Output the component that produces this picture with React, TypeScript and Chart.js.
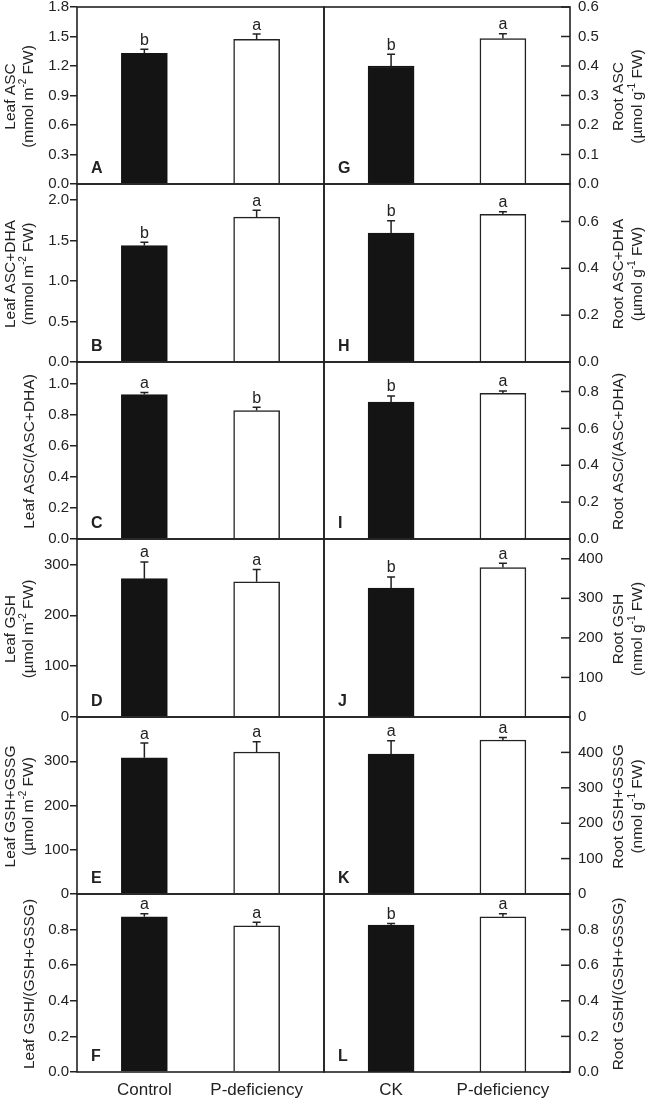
import React, { useEffect, useRef } from "react";
import { Chart, registerables } from "chart.js";

Chart.register(...registerables);

const FONT = '"Liberation Sans", Arial, Helvetica, sans-serif';
const INK = "#222222";
const BAR_DARK = "#141414";

// ---------- data ----------
const leafCategories = ["Control", "P-deficiency"];
const rootCategories = ["CK", "P-deficiency"];

// A  Leaf ASC
const leafAscMean = [1.33, 1.47];
const leafAscErr = [0.04, 0.055];
const leafAscSig = ["b", "a"];
const leafAscTicks = [0, 0.3, 0.6, 0.9, 1.2, 1.5, 1.8];
// B  Leaf ASC+DHA
const leafTotalAscMean = [1.44, 1.79];
const leafTotalAscErr = [0.04, 0.085];
const leafTotalAscSig = ["b", "a"];
const leafTotalAscTicks = [0, 0.5, 1.0, 1.5, 2.0];
// C  Leaf ASC/(ASC+DHA)
const leafAscRatioMean = [0.93, 0.827];
const leafAscRatioErr = [0.013, 0.022];
const leafAscRatioSig = ["a", "b"];
const leafAscRatioTicks = [0, 0.2, 0.4, 0.6, 0.8, 1.0];
// D  Leaf GSH
const leafGshMean = [272, 266];
const leafGshErr = [33, 24];
const leafGshSig = ["a", "a"];
const leafGshTicks = [0, 100, 200, 300];
// E  Leaf GSH+GSSG
const leafTotalGshMean = [308, 321];
const leafTotalGshErr = [33, 23];
const leafTotalGshSig = ["a", "a"];
const leafTotalGshTicks = [0, 100, 200, 300];
// F  Leaf GSH/(GSH+GSSG)
const leafGshRatioMean = [0.872, 0.821];
const leafGshRatioErr = [0.017, 0.02];
const leafGshRatioSig = ["a", "a"];
const leafGshRatioTicks = [0, 0.2, 0.4, 0.6, 0.8];
// G  Root ASC
const rootAscMean = [0.4, 0.493];
const rootAscErr = [0.04, 0.016];
const rootAscSig = ["b", "a"];
const rootAscTicks = [0, 0.1, 0.2, 0.3, 0.4, 0.5, 0.6];
// H  Root ASC+DHA
const rootTotalAscMean = [0.55, 0.631];
const rootTotalAscErr = [0.053, 0.011];
const rootTotalAscSig = ["b", "a"];
const rootTotalAscTicks = [0, 0.2, 0.4, 0.6];
// I  Root ASC/(ASC+DHA)
const rootAscRatioMean = [0.742, 0.79];
const rootAscRatioErr = [0.034, 0.013];
const rootAscRatioSig = ["b", "a"];
const rootAscRatioTicks = [0, 0.2, 0.4, 0.6, 0.8];
// J  Root GSH
const rootGshMean = [326, 378];
const rootGshErr = [28, 11];
const rootGshSig = ["b", "a"];
const rootGshTicks = [0, 100, 200, 300, 400];
// K  Root GSH+GSSG
const rootTotalGshMean = [395, 435];
const rootTotalGshErr = [38, 7];
const rootTotalGshSig = ["a", "a"];
const rootTotalGshTicks = [0, 100, 200, 300, 400];
// L  Root GSH/(GSH+GSSG)
const rootGshRatioMean = [0.825, 0.872];
const rootGshRatioErr = [0.009, 0.017];
const rootGshRatioSig = ["b", "a"];
const rootGshRatioTicks = [0, 0.2, 0.4, 0.6, 0.8];

type PanelSpec = {
  letter: string;
  side: "left" | "right";
  row: number;
  title: string[];
  cats: string[];
  values: number[];
  errs: number[];
  sig: string[];
  max: number;
  ticks: number[];
  decimals: number;
};

const PANELS: PanelSpec[] = [
  { letter: "A", side: "left", row: 0, title: ["Leaf ASC", "(mmol m{-2} FW)"], cats: leafCategories, values: leafAscMean, errs: leafAscErr, sig: leafAscSig, max: 1.8, ticks: leafAscTicks, decimals: 1 },
  { letter: "B", side: "left", row: 1, title: ["Leaf ASC+DHA", "(mmol m{-2} FW)"], cats: leafCategories, values: leafTotalAscMean, errs: leafTotalAscErr, sig: leafTotalAscSig, max: 2.2, ticks: leafTotalAscTicks, decimals: 1 },
  { letter: "C", side: "left", row: 2, title: ["Leaf ASC/(ASC+DHA)"], cats: leafCategories, values: leafAscRatioMean, errs: leafAscRatioErr, sig: leafAscRatioSig, max: 1.14, ticks: leafAscRatioTicks, decimals: 1 },
  { letter: "D", side: "left", row: 3, title: ["Leaf GSH", "(µmol m{-2} FW)"], cats: leafCategories, values: leafGshMean, errs: leafGshErr, sig: leafGshSig, max: 350, ticks: leafGshTicks, decimals: 0 },
  { letter: "E", side: "left", row: 4, title: ["Leaf GSH+GSSG", "(µmol m{-2} FW)"], cats: leafCategories, values: leafTotalGshMean, errs: leafTotalGshErr, sig: leafTotalGshSig, max: 400, ticks: leafTotalGshTicks, decimals: 0 },
  { letter: "F", side: "left", row: 5, title: ["Leaf GSH/(GSH+GSSG)"], cats: leafCategories, values: leafGshRatioMean, errs: leafGshRatioErr, sig: leafGshRatioSig, max: 1.0, ticks: leafGshRatioTicks, decimals: 1 },
  { letter: "G", side: "right", row: 0, title: ["Root ASC", "(µmol g{-1} FW)"], cats: rootCategories, values: rootAscMean, errs: rootAscErr, sig: rootAscSig, max: 0.6, ticks: rootAscTicks, decimals: 1 },
  { letter: "H", side: "right", row: 1, title: ["Root ASC+DHA", "(µmol g{-1} FW)"], cats: rootCategories, values: rootTotalAscMean, errs: rootTotalAscErr, sig: rootTotalAscSig, max: 0.76, ticks: rootTotalAscTicks, decimals: 1 },
  { letter: "I", side: "right", row: 2, title: ["Root ASC/(ASC+DHA)"], cats: rootCategories, values: rootAscRatioMean, errs: rootAscRatioErr, sig: rootAscRatioSig, max: 0.96, ticks: rootAscRatioTicks, decimals: 1 },
  { letter: "J", side: "right", row: 3, title: ["Root GSH", "(nmol g{-1} FW)"], cats: rootCategories, values: rootGshMean, errs: rootGshErr, sig: rootGshSig, max: 450, ticks: rootGshTicks, decimals: 0 },
  { letter: "K", side: "right", row: 4, title: ["Root GSH+GSSG", "(nmol g{-1} FW)"], cats: rootCategories, values: rootTotalGshMean, errs: rootTotalGshErr, sig: rootTotalGshSig, max: 500, ticks: rootTotalGshTicks, decimals: 0 },
  { letter: "L", side: "right", row: 5, title: ["Root GSH/(GSH+GSSG)"], cats: rootCategories, values: rootGshRatioMean, errs: rootGshRatioErr, sig: rootGshRatioSig, max: 1.0, ticks: rootGshRatioTicks, decimals: 1 },
];

// ---------- layout ----------
const ROW_Y = [7, 184, 362, 539, 717, 894, 1072];
const PAD_T = 20;
const PAD_B = 20;
const X_AXIS_H = 30;
const LEFT_CANVAS = { left: 0, width: 331, axisW: 77 };
const RIGHT_CANVAS = { left: 317, width: 333, axisW: 80 };

function drawRich(ctx: CanvasRenderingContext2D, text: string, cx: number, cy: number, size: number) {
  const parts = text
    .split(/(\{[^}]*\})/)
    .filter((s) => s.length > 0)
    .map((s) => (s.startsWith("{") ? { t: s.slice(1, -1), sup: true } : { t: s, sup: false }));
  const normFont = `${size}px ${FONT}`;
  const supFont = `${Math.round(size * 0.66)}px ${FONT}`;
  const widths = parts.map((p) => {
    ctx.font = p.sup ? supFont : normFont;
    return ctx.measureText(p.t).width;
  });
  const total = widths.reduce((a, b) => a + b, 0);
  ctx.save();
  ctx.translate(cx, cy);
  ctx.rotate(-Math.PI / 2);
  ctx.textBaseline = "middle";
  ctx.textAlign = "left";
  ctx.fillStyle = INK;
  let x = -total / 2;
  parts.forEach((p, i) => {
    ctx.font = p.sup ? supFont : normFont;
    ctx.fillText(p.t, x, p.sup ? -size * 0.36 : 0);
    x += widths[i];
  });
  ctx.restore();
}

function makeDecor(p: PanelSpec) {
  return {
    id: "decor",
    afterDatasetsDraw(chart: any) {
      const { ctx, chartArea: a, scales } = chart;
      const x = scales.x;
      const y = scales.y;
      ctx.save();
      // error bars + significance letters
      p.values.forEach((v, i) => {
        const px = x.getPixelForValue(i);
        const y0 = y.getPixelForValue(v);
        const y1 = y.getPixelForValue(v + p.errs[i]);
        ctx.strokeStyle = INK;
        ctx.lineWidth = 1.5;
        ctx.beginPath();
        ctx.moveTo(px, y0);
        ctx.lineTo(px, y1);
        ctx.moveTo(px - 4, y1);
        ctx.lineTo(px + 4, y1);
        ctx.stroke();
        ctx.fillStyle = INK;
        ctx.font = `16px ${FONT}`;
        ctx.textAlign = "center";
        ctx.textBaseline = "alphabetic";
        ctx.fillText(p.sig[i], px, y1 - 4.5);
      });
      // frame
      ctx.strokeStyle = INK;
      ctx.lineWidth = 1.6;
      ctx.strokeRect(a.left, a.top, a.right - a.left, a.bottom - a.top);
      // inward ticks on right axis
      if (p.side === "right") {
        ctx.lineWidth = 1.5;
        y.ticks.forEach((t: any) => {
          const py = y.getPixelForValue(t.value);
          ctx.beginPath();
          ctx.moveTo(a.right - 9, py);
          ctx.lineTo(a.right, py);
          ctx.stroke();
        });
      }
      // panel letter
      ctx.fillStyle = INK;
      ctx.font = `bold 16px ${FONT}`;
      ctx.textAlign = "left";
      ctx.textBaseline = "alphabetic";
      ctx.fillText(p.letter, a.left + 14, a.bottom - 11);
      // axis titles
      const cy = (a.top + a.bottom) / 2 + 1;
      let xs: number[];
      if (p.side === "left") {
        xs = p.title.length === 2 ? [11, 28.5] : [29.5];
      } else {
        xs = p.title.length === 2 ? [302, 321] : [302];
      }
      p.title.forEach((t, i) => drawRich(ctx, t, xs[i], cy, 15.5));
      ctx.restore();
    },
  };
}

function PanelChart({ p }: { p: PanelSpec }) {
  const ref = useRef<HTMLCanvasElement>(null);
  const isLeft = p.side === "left";
  const isBottom = p.row === 5;
  const geo = isLeft ? LEFT_CANVAS : RIGHT_CANVAS;
  const rowTop = ROW_Y[p.row];
  const rowH = ROW_Y[p.row + 1] - rowTop;
  const canvasTop = rowTop - PAD_T;
  const canvasH = isBottom ? rowH + PAD_T + X_AXIS_H + 2 : rowH + PAD_T + PAD_B;

  useEffect(() => {
    const xScale: any = {
      type: "linear",
      min: -0.6,
      max: 1.6,
      offset: false,
      display: isBottom,
      grid: { display: false, drawTicks: false },
      border: { display: false },
      afterBuildTicks: (s: any) => {
        s.ticks = [{ value: 0 }, { value: 1 }];
      },
      ticks: {
        autoSkip: false,
        maxRotation: 0,
        padding: 8,
        color: INK,
        font: { family: FONT, size: 17 },
        callback: (_v: any, i: number) => p.cats[i],
      },
    };
    if (isBottom) {
      xScale.afterFit = (s: any) => {
        s.height = X_AXIS_H;
      };
    }
    const chart = new Chart(ref.current as HTMLCanvasElement, {
      type: "bar",
      data: {
        datasets: [
          {
            data: p.values.map((v, i) => ({ x: i, y: v })),
            backgroundColor: [BAR_DARK, "#ffffff"],
            borderColor: [BAR_DARK, INK],
            borderWidth: 1.5,
            barThickness: 46,
          },
        ],
      },
      options: {
        responsive: false,
        animation: false,
        devicePixelRatio: 1,
        layout: {
          padding: {
            left: isLeft ? 0 : 7,
            right: isLeft ? 7 : 0,
            top: PAD_T,
            bottom: isBottom ? 2 : PAD_B,
          },
        },
        plugins: { legend: { display: false }, tooltip: { enabled: false } },
        scales: {
          x: xScale,
          y: {
            type: "linear",
            position: isLeft ? "left" : "right",
            min: 0,
            max: p.max,
            afterBuildTicks: (s: any) => {
              s.ticks = p.ticks.map((v) => ({ value: v }));
            },
            afterFit: (s: any) => {
              s.width = geo.axisW;
            },
            grid: isLeft
              ? { display: true, drawOnChartArea: false, drawTicks: true, tickLength: 7, color: INK, lineWidth: 1.5 }
              : { display: false, drawTicks: false },
            border: { display: false },
            ticks: {
              padding: isLeft ? 1 : 8,
              color: INK,
              font: { family: FONT, size: 15 },
              callback: (v: any) => Number(v).toFixed(p.decimals),
            },
          },
        },
      },
      plugins: [makeDecor(p)],
    } as any);
    return () => chart.destroy();
  }, []);

  return (
    <canvas
      ref={ref}
      width={geo.width}
      height={canvasH}
      style={{ position: "absolute", left: geo.left, top: canvasTop, width: geo.width, height: canvasH }}
    />
  );
}

export default function App() {
  return (
    <div style={{ position: "absolute", left: 0, top: 0, width: 650, height: 1102, background: "#ffffff" }}>
      {PANELS.map((p) => (
        <PanelChart key={p.letter} p={p} />
      ))}
    </div>
  );
}
